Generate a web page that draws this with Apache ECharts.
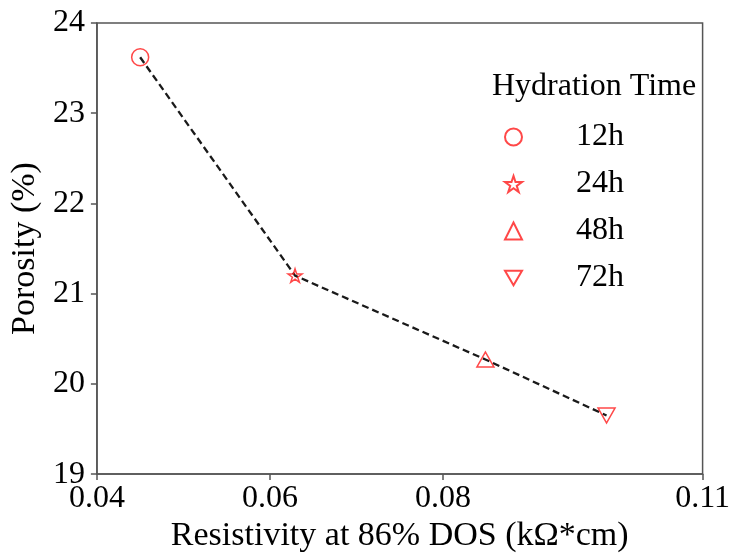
<!DOCTYPE html>
<html>
<head>
<meta charset="utf-8">
<script src="https://cdn.jsdelivr.net/npm/echarts@6/dist/echarts.min.js"></script>
<style>
  html, body { margin: 0; padding: 0; background: #fff; }
  #chart { width: 733px; height: 558px; }
</style>
</head>
<body>
<div id="chart"></div>
<script>
// values
const hydrationTimes = ['12h', '24h', '48h', '72h'];
const resistivity = [0.0450, 0.0629, 0.0849, 0.0989];
const porosity = [23.62, 21.20, 20.27, 19.65];
const xTickValues = [0.04, 0.06, 0.08, 0.11];
const yTickValues = [19, 20, 21, 22, 23, 24];

const FONT = '"Liberation Serif", "Times New Roman", serif';
const AXIS_COLOR = '#555';
const RED = '#ff1a1a';

const starPath = 'path://M100,0 L122.45,69.1 L195.11,69.1 L136.33,111.8 L158.78,180.9 L100,138.2 L41.22,180.9 L63.67,111.8 L4.89,69.1 L77.55,69.1 Z';
const downTriangle = 'path://M0,0 L20,0 L10,17 Z';
const markers = [
  { symbol: 'circle', size: 17 },
  { symbol: starPath, size: [14, 13.5] },
  { symbol: 'triangle', size: [17, 15] },
  { symbol: downTriangle, size: [17, 15] }
];

const chart = echarts.init(document.getElementById('chart'), null, { renderer: 'canvas' });

const scatterSeries = hydrationTimes.map((name, i) => ({
  name: name,
  type: 'scatter',
  z: 5,
  symbol: markers[i].symbol,
  symbolSize: markers[i].size,
  itemStyle: { color: 'rgba(255,255,255,0)', borderColor: RED, borderWidth: 1.5 },
  emphasis: { disabled: true },
  data: [[resistivity[i], porosity[i]]]
}));

const option = {
  backgroundColor: '#fff',
  animation: false,
  title: {
    text: 'Hydration Time',
    left: 487,
    top: 66,
    textStyle: { fontFamily: FONT, fontSize: 32, fontWeight: 'normal', color: '#000' }
  },
  legend: {
    data: hydrationTimes,
    orient: 'vertical',
    left: 499,
    top: 116,
    itemWidth: 17,
    itemHeight: 17,
    itemGap: 15,
    selectedMode: false,
    textStyle: {
      fontFamily: FONT, fontSize: 32, color: '#000',
      padding: [0, 0, 0, 49]
    }
  },
  grid: {
    left: 96, right: 25, top: 23, bottom: 80,
    show: true, borderColor: AXIS_COLOR, borderWidth: 1.5,
    containLabel: false
  },
  xAxis: {
    type: 'value',
    min: 0.04, max: 0.11,
    name: 'Resistivity at 86% DOS (k\u03A9*cm)',
    nameLocation: 'middle',
    nameGap: 43,
    nameTextStyle: { fontFamily: FONT, fontSize: 34, color: '#000' },
    axisLine: { show: true, lineStyle: { color: AXIS_COLOR, width: 1.5 } },
    axisTick: { show: true, inside: false, length: 6, customValues: xTickValues, lineStyle: { color: AXIS_COLOR, width: 1.5 } },
    axisLabel: {
      customValues: xTickValues,
      margin: 8,
      fontFamily: FONT, fontSize: 32, color: '#000',
      formatter: v => String(Math.round(v * 100) / 100)
    },
    splitLine: { show: false }
  },
  yAxis: {
    type: 'value',
    min: 19, max: 24, interval: 1,
    name: 'Porosity (%)',
    nameLocation: 'middle',
    nameGap: 53,
    nameTextStyle: { fontFamily: FONT, fontSize: 34, color: '#000' },
    axisLine: { show: true, lineStyle: { color: AXIS_COLOR, width: 1.5 } },
    axisTick: { show: true, inside: false, length: 6, customValues: yTickValues, lineStyle: { color: AXIS_COLOR, width: 1.5 } },
    axisLabel: {
      customValues: yTickValues,
      margin: 12,
      fontFamily: FONT, fontSize: 32, color: '#000'
    },
    splitLine: { show: false }
  },
  series: [
    {
      name: 'trend',
      type: 'line',
      z: 2,
      symbol: 'none',
      lineStyle: { color: '#1a1a1a', width: 2.3, type: [7, 4] },
      emphasis: { disabled: true },
      data: resistivity.map((x, i) => [x, porosity[i]])
    }
  ].concat(scatterSeries)
};

chart.setOption(option);
</script>
</body>
</html>
